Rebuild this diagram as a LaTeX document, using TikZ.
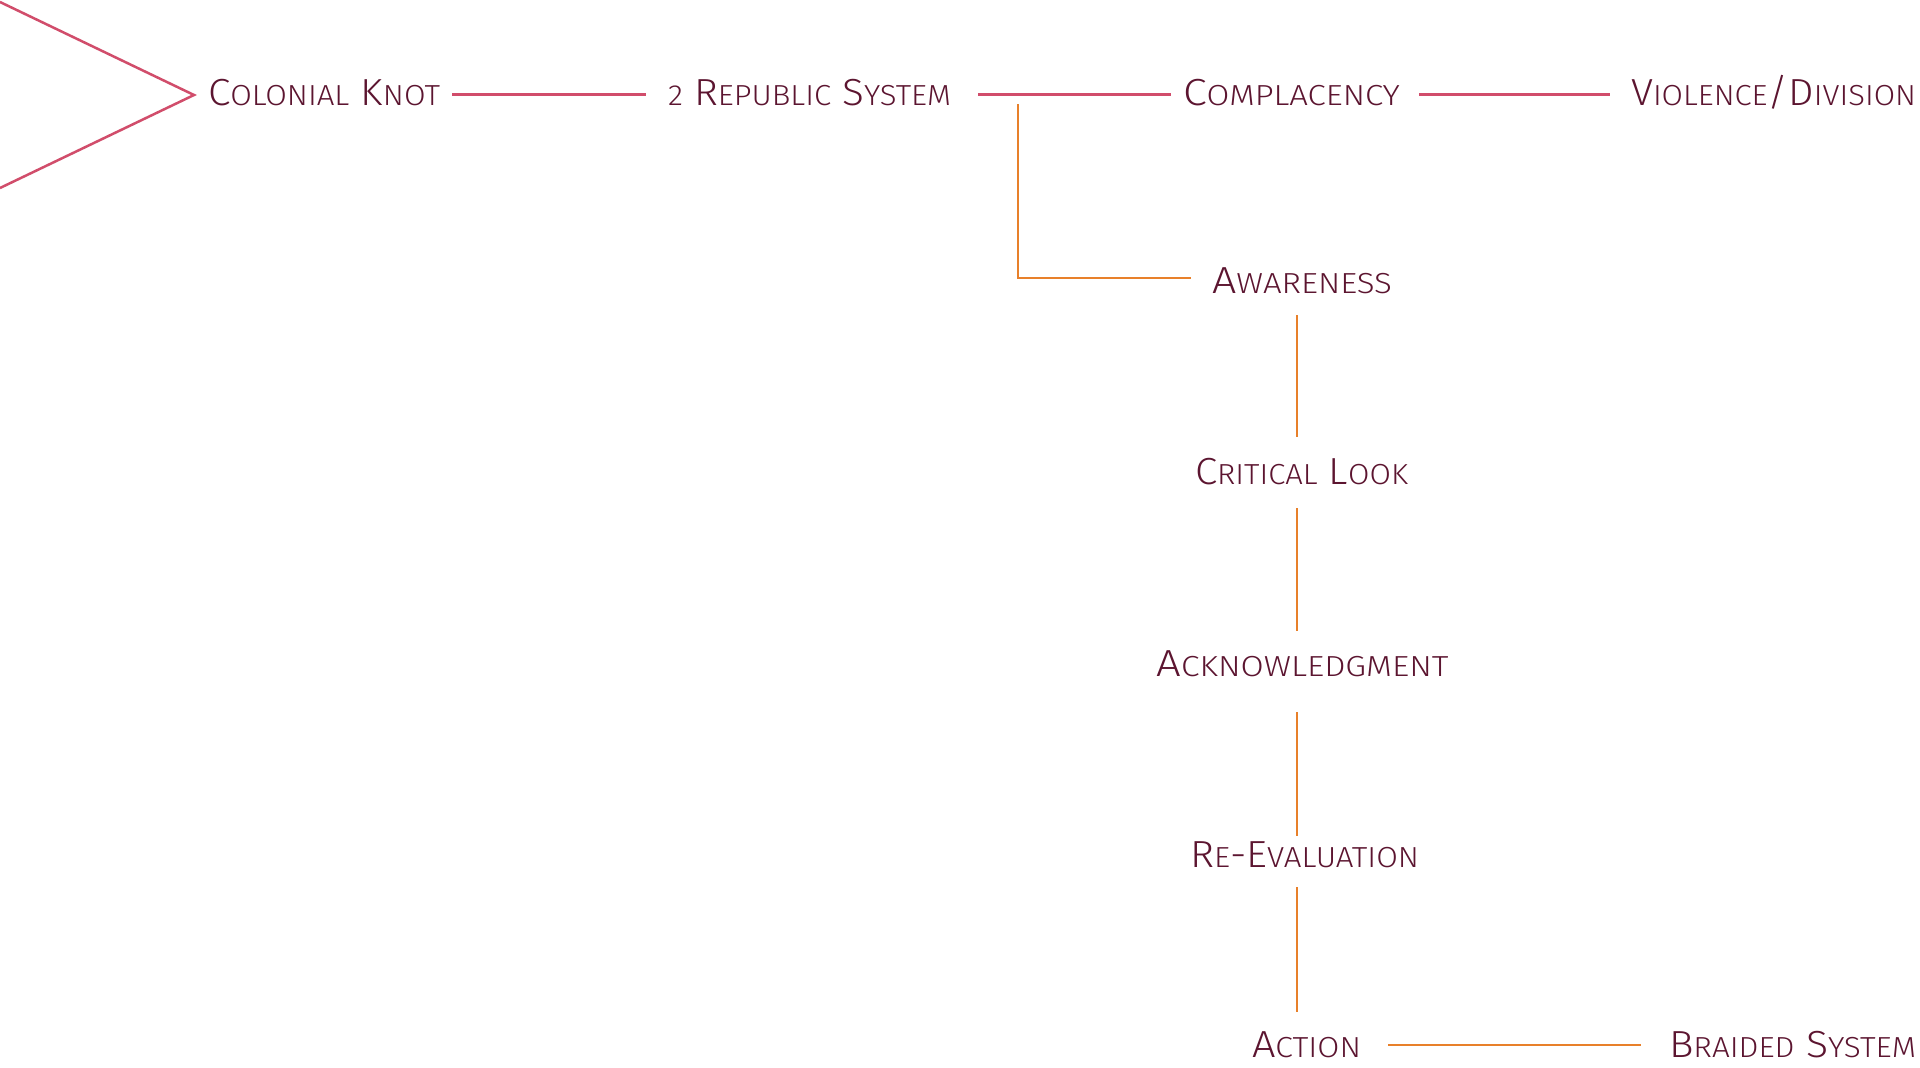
\documentclass[tikz,border=0pt]{standalone}
\usepackage{fontspec}
\usepackage{graphicx}
\usetikzlibrary{calc}
\newfontfamily\lblfont{Fira Sans Light}
\definecolor{txt}{HTML}{5C1530}
\definecolor{pinkline}{HTML}{D14D6B}
\definecolor{orangeline}{HTML}{E8802A}
\newcommand{\SCx}[2]{{\fontsize{37.7}{40}\selectfont #1}{\fontsize{29}{32}\selectfont #2}}
\newcommand{\SCs}[1]{{\fontsize{29}{32}\selectfont #1}}
\newcommand{\fitw}[2]{\resizebox{#1pt}{\height}{#2}}
\begin{document}
\begin{tikzpicture}[x=1pt,y=-1pt,
  lbl/.style={inner sep=0pt, outer sep=0pt, anchor=base, text=txt,
    font=\lblfont\fontsize{37.7}{40}\selectfont},
  pinkconn/.style={draw=pinkline, line width=2.5pt},
  orangeconn/.style={draw=orangeline, line width=2.3pt}]
\fill[white] (0,0) rectangle (1920,1068);
\useasboundingbox (0,0) rectangle (1920,1068);

% top row
\node[lbl] (ck)  at (324,105)    {\fitw{232}{\SCx{C}{OLONIAL} \SCx{K}{NOT}}};
\node[lbl] (rep) at (809.5,105)  {\fitw{283}{\SCs{2} \SCx{R}{EPUBLIC} \SCx{S}{YSTEM}}};
\node[lbl] (cmp) at (1291.5,105) {\fitw{217}{\SCx{C}{OMPLACENCY}}};
\node[lbl] (vio) at (1773.5,105) {\fitw{285}{\SCx{V}{IOLENCE}/\SCx{D}{IVISION}}};

% column
\node[lbl] (aw)  at (1302,293)   {\fitw{180}{\SCx{A}{WARENESS}}};
\node[lbl] (cl)  at (1301.5,484) {\fitw{213}{\SCx{C}{RITICAL} \SCx{L}{OOK}}};
\node[lbl] (ack) at (1302.5,676) {\fitw{292}{\SCx{A}{CKNOWLEDGMENT}}};
\node[lbl] (rev) at (1304.5,867) {\fitw{229}{\SCx{R}{E}-\SCx{E}{VALUATION}}};
\node[lbl] (act) at (1306.5,1057) {\fitw{109}{\SCx{A}{CTION}}};
\node[lbl] (brd) at (1792.5,1057) {\fitw{247}{\SCx{B}{RAIDED} \SCx{S}{YSTEM}}};

% chevron
\coordinate (tip) at ($(ck.base west)+(-14,-10)$);
\draw[pinkconn, line join=miter] (0,2) -- (tip) -- (0,188);

% top row connectors
\draw[pinkconn] ($(ck.base east)+(12,-10.5)$) -- ($(rep.base west)+(-22,-10.5)$);
\draw[pinkconn] ($(rep.base east)+(27,-10.5)$) -- ($(cmp.base west)+(-12,-10.5)$);
\draw[pinkconn] ($(cmp.base east)+(19,-10.5)$) -- ($(vio.base west)+(-21,-10.5)$);

% branch to awareness
\draw[orangeconn] ($(rep.base east)+(67,-1)$) |- ($(aw.base west)+(-21,-15)$);

% vertical chain
\coordinate (vx) at (1297,0);
\draw[orangeconn] ($(aw.base -| vx)+(0,22)$) -- ($(cl.base -| vx)+(0,-47)$);
\draw[orangeconn] ($(cl.base -| vx)+(0,24)$) -- ($(ack.base -| vx)+(0,-45)$);
\draw[orangeconn] ($(ack.base -| vx)+(0,36)$) -- ($(rev.base -| vx)+(0,-31)$);
\draw[orangeconn] ($(rev.base -| vx)+(0,20)$) -- ($(act.base -| vx)+(0,-45)$);

% action to braided
\draw[orangeconn] ($(act.base east)+(27,-12)$) -- ($(brd.base west)+(-28,-12)$);
\end{tikzpicture}
\end{document}
